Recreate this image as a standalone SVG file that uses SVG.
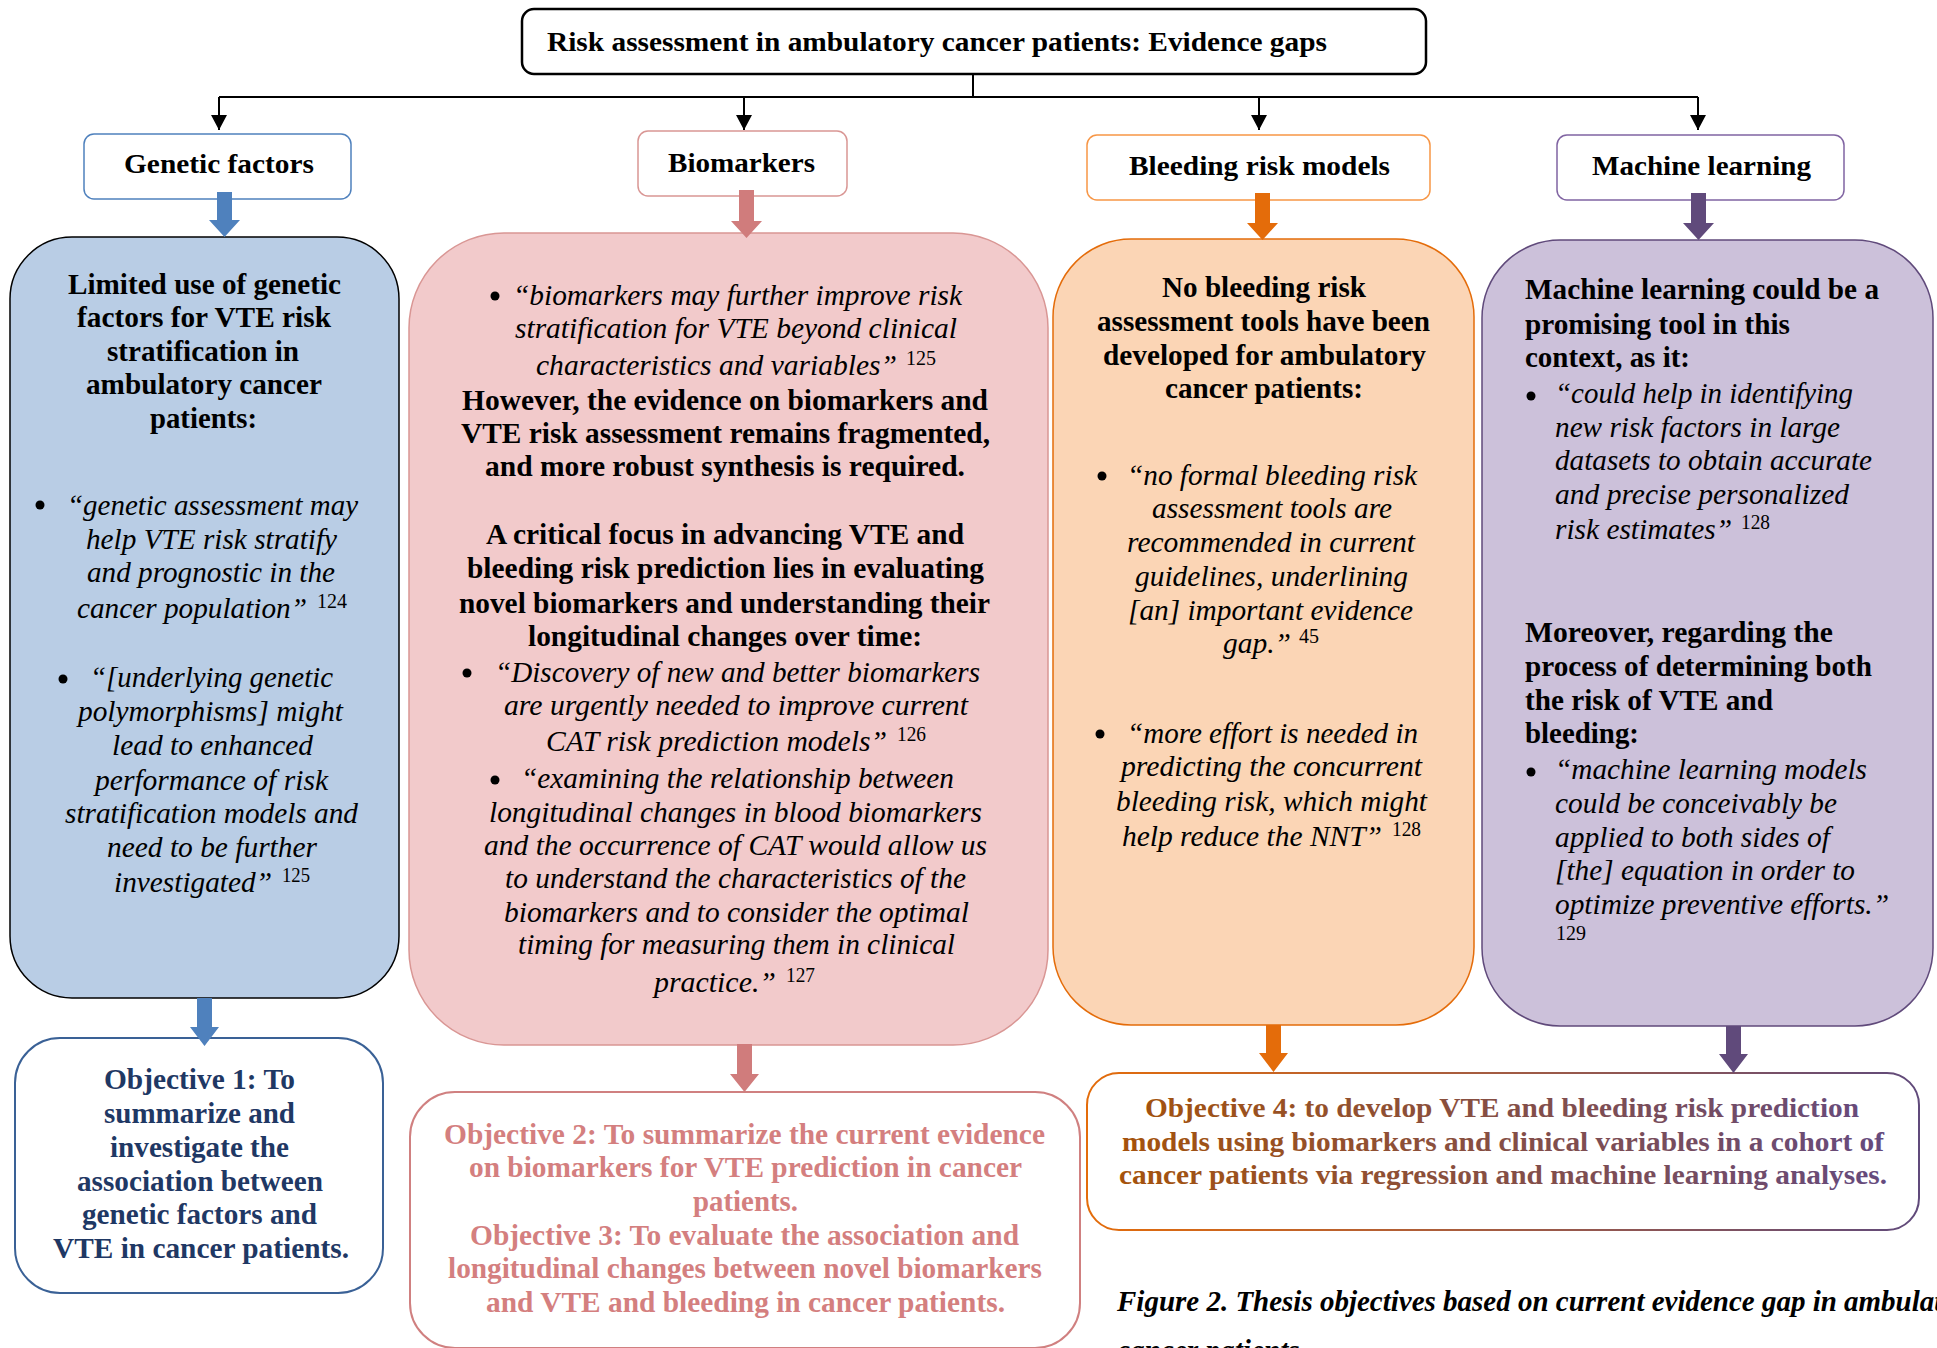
<svg xmlns="http://www.w3.org/2000/svg" width="1937" height="1348" viewBox="0 0 1937 1348">
<style>
text { font-family: "Liberation Serif", "Times New Roman", serif; fill: #000; }
.t { font-weight: bold; font-size: 28px; }
.h { font-weight: bold; font-size: 29px; }
.i { font-style: italic; font-size: 29px; }
.s { font-size: 20px; }
.o { font-weight: bold; font-size: 30px; }
.o1 { fill: #1F3864; }
.o2 { fill: #D47F7F; }
.o4 { fill: url(#g4t); font-size: 28px; }
.cap { font-weight: bold; font-style: italic; font-size: 30px; }
.line { stroke: #000; stroke-width: 2; fill: none; }
.dot { fill: #000; }
</style>
<defs>
<marker id="ah" markerUnits="userSpaceOnUse" markerWidth="16" markerHeight="16" refX="15" refY="8" orient="auto" viewBox="0 0 16 16">
<path d="M0 0 L15 8 L0 16 Z" fill="#000"/>
</marker>
<linearGradient id="g4" gradientUnits="userSpaceOnUse" x1="1087" y1="0" x2="1919" y2="0">
<stop offset="0" stop-color="#E46C0A"/><stop offset="1" stop-color="#604A7B"/>
</linearGradient>
<linearGradient id="g4t" gradientUnits="userSpaceOnUse" x1="1119" y1="0" x2="1887" y2="0">
<stop offset="0" stop-color="#A5520C"/><stop offset="1" stop-color="#654A7E"/>
</linearGradient>
</defs>
<rect width="1937" height="1348" fill="#fff"/>

<g id="title">
<rect x="522" y="9" width="904" height="65" rx="12" fill="#fff" stroke="#000" stroke-width="2.5"/>
<text class="t" x="547" y="51" textLength="780" lengthAdjust="spacingAndGlyphs">Risk assessment in ambulatory cancer patients: Evidence gaps</text>
</g>

<g id="hdr-genetic">
<rect x="84" y="134" width="267" height="65" rx="10" fill="#fff" stroke="#4F81BD" stroke-width="1.5"/>
<text class="t" x="124" y="173" textLength="190" lengthAdjust="spacingAndGlyphs">Genetic factors</text>
</g>
<g id="hdr-biomarkers">
<rect x="638" y="131" width="209" height="65" rx="10" fill="#fff" stroke="#D99694" stroke-width="1.5"/>
<text class="t" x="668" y="172" textLength="147" lengthAdjust="spacingAndGlyphs">Biomarkers</text>
</g>
<g id="hdr-bleeding">
<rect x="1087" y="135" width="343" height="65" rx="10" fill="#fff" stroke="#F79646" stroke-width="1.5"/>
<text class="t" x="1129" y="175" textLength="261" lengthAdjust="spacingAndGlyphs">Bleeding risk models</text>
</g>
<g id="hdr-ml">
<rect x="1557" y="135" width="287" height="65" rx="10" fill="#fff" stroke="#8064A2" stroke-width="1.5"/>
<text class="t" x="1592" y="175" textLength="219" lengthAdjust="spacingAndGlyphs">Machine learning</text>
</g>

<g id="gap-genetic">
<rect x="10" y="237" width="389" height="761" rx="62" fill="#B9CDE5" stroke="#000" stroke-width="1.5"/>
<text class="h" x="68" y="294" textLength="273" lengthAdjust="spacingAndGlyphs">Limited use of genetic</text>
<text class="h" x="77" y="327" textLength="254" lengthAdjust="spacingAndGlyphs">factors for VTE risk</text>
<text class="h" x="107" y="361" textLength="192" lengthAdjust="spacingAndGlyphs">stratification in</text>
<text class="h" x="86" y="394" textLength="236" lengthAdjust="spacingAndGlyphs">ambulatory cancer</text>
<text class="h" x="150" y="428" textLength="107" lengthAdjust="spacingAndGlyphs">patients:</text>
<circle class="dot" cx="40" cy="505" r="4.5"/>
<text class="i" x="67" y="515" textLength="291" lengthAdjust="spacingAndGlyphs">“genetic assessment may</text>
<text class="i" x="86" y="549" textLength="251" lengthAdjust="spacingAndGlyphs">help VTE risk stratify</text>
<text class="i" x="87" y="582" textLength="248" lengthAdjust="spacingAndGlyphs">and prognostic in the</text>
<text class="i" x="77" y="618" textLength="230" lengthAdjust="spacingAndGlyphs">cancer population”</text>
<text class="s" x="317" y="608" textLength="30" lengthAdjust="spacingAndGlyphs">124</text>
<circle class="dot" cx="63" cy="679" r="4.5"/>
<text class="i" x="90" y="687" textLength="243" lengthAdjust="spacingAndGlyphs">“[underlying genetic</text>
<text class="i" x="78" y="721" textLength="265" lengthAdjust="spacingAndGlyphs">polymorphisms] might</text>
<text class="i" x="112" y="755" textLength="201" lengthAdjust="spacingAndGlyphs">lead to enhanced</text>
<text class="i" x="95" y="790" textLength="233" lengthAdjust="spacingAndGlyphs">performance of risk</text>
<text class="i" x="65" y="823" textLength="293" lengthAdjust="spacingAndGlyphs">stratification models and</text>
<text class="i" x="107" y="857" textLength="210" lengthAdjust="spacingAndGlyphs">need to be further</text>
<text class="i" x="114" y="892" textLength="158" lengthAdjust="spacingAndGlyphs">investigated”</text>
<text class="s" x="282" y="882" textLength="28" lengthAdjust="spacingAndGlyphs">125</text>
</g>

<g id="gap-biomarkers">
<rect x="409" y="233" width="639" height="812" rx="95" fill="#F2CACB" stroke="#D99694" stroke-width="1.5"/>
<circle class="dot" cx="495" cy="296" r="4.5"/>
<text class="i" x="513" y="305" textLength="449" lengthAdjust="spacingAndGlyphs">“biomarkers may further improve risk</text>
<text class="i" x="515" y="338" textLength="442" lengthAdjust="spacingAndGlyphs">stratification for VTE beyond clinical</text>
<text class="i" x="536" y="375" textLength="361" lengthAdjust="spacingAndGlyphs">characteristics and variables”</text>
<text class="s" x="906" y="365" textLength="30" lengthAdjust="spacingAndGlyphs">125</text>
<text class="h" x="462" y="410" textLength="526" lengthAdjust="spacingAndGlyphs">However, the evidence on biomarkers and</text>
<text class="h" x="461" y="443" textLength="529" lengthAdjust="spacingAndGlyphs">VTE risk assessment remains fragmented,</text>
<text class="h" x="485" y="476" textLength="480" lengthAdjust="spacingAndGlyphs">and more robust synthesis is required.</text>
<text class="h" x="486" y="544" textLength="478" lengthAdjust="spacingAndGlyphs">A critical focus in advancing VTE and</text>
<text class="h" x="467" y="578" textLength="517" lengthAdjust="spacingAndGlyphs">bleeding risk prediction lies in evaluating</text>
<text class="h" x="459" y="613" textLength="531" lengthAdjust="spacingAndGlyphs">novel biomarkers and understanding their</text>
<text class="h" x="528" y="646" textLength="394" lengthAdjust="spacingAndGlyphs">longitudinal changes over time:</text>
<circle class="dot" cx="467" cy="673" r="4.5"/>
<text class="i" x="495" y="682" textLength="485" lengthAdjust="spacingAndGlyphs">“Discovery of new and better biomarkers</text>
<text class="i" x="504" y="715" textLength="464" lengthAdjust="spacingAndGlyphs">are urgently needed to improve current</text>
<text class="i" x="546" y="751" textLength="341" lengthAdjust="spacingAndGlyphs">CAT risk prediction models”</text>
<text class="s" x="897" y="741" textLength="29" lengthAdjust="spacingAndGlyphs">126</text>
<circle class="dot" cx="495" cy="780" r="4.5"/>
<text class="i" x="521" y="788" textLength="433" lengthAdjust="spacingAndGlyphs">“examining the relationship between</text>
<text class="i" x="489" y="822" textLength="493" lengthAdjust="spacingAndGlyphs">longitudinal changes in blood biomarkers</text>
<text class="i" x="484" y="855" textLength="503" lengthAdjust="spacingAndGlyphs">and the occurrence of CAT would allow us</text>
<text class="i" x="505" y="888" textLength="461" lengthAdjust="spacingAndGlyphs">to understand the characteristics of the</text>
<text class="i" x="504" y="922" textLength="465" lengthAdjust="spacingAndGlyphs">biomarkers and to consider the optimal</text>
<text class="i" x="518" y="954" textLength="437" lengthAdjust="spacingAndGlyphs">timing for measuring them in clinical</text>
<text class="i" x="654" y="992" textLength="122" lengthAdjust="spacingAndGlyphs">practice.”</text>
<text class="s" x="786" y="982" textLength="29" lengthAdjust="spacingAndGlyphs">127</text>
</g>

<g id="gap-bleeding">
<rect x="1053" y="239" width="421" height="786" rx="78" fill="#FBD5B5" stroke="#E46C0A" stroke-width="1.5"/>
<text class="h" x="1162" y="297" textLength="204" lengthAdjust="spacingAndGlyphs">No bleeding risk</text>
<text class="h" x="1097" y="331" textLength="333" lengthAdjust="spacingAndGlyphs">assessment tools have been</text>
<text class="h" x="1103" y="365" textLength="323" lengthAdjust="spacingAndGlyphs">developed for ambulatory</text>
<text class="h" x="1165" y="398" textLength="198" lengthAdjust="spacingAndGlyphs">cancer patients:</text>
<circle class="dot" cx="1102" cy="476" r="4.5"/>
<text class="i" x="1127" y="485" textLength="290" lengthAdjust="spacingAndGlyphs">“no formal bleeding risk</text>
<text class="i" x="1152" y="518" textLength="240" lengthAdjust="spacingAndGlyphs">assessment tools are</text>
<text class="i" x="1127" y="552" textLength="288" lengthAdjust="spacingAndGlyphs">recommended in current</text>
<text class="i" x="1135" y="586" textLength="273" lengthAdjust="spacingAndGlyphs">guidelines, underlining</text>
<text class="i" x="1128" y="620" textLength="285" lengthAdjust="spacingAndGlyphs">[an] important evidence</text>
<text class="i" x="1223" y="653" textLength="68" lengthAdjust="spacingAndGlyphs">gap.”</text>
<text class="s" x="1299" y="643" textLength="20" lengthAdjust="spacingAndGlyphs">45</text>
<circle class="dot" cx="1100" cy="734" r="4.5"/>
<text class="i" x="1127" y="743" textLength="291" lengthAdjust="spacingAndGlyphs">“more effort is needed in</text>
<text class="i" x="1121" y="776" textLength="301" lengthAdjust="spacingAndGlyphs">predicting the concurrent</text>
<text class="i" x="1116" y="811" textLength="311" lengthAdjust="spacingAndGlyphs">bleeding risk, which might</text>
<text class="i" x="1122" y="846" textLength="260" lengthAdjust="spacingAndGlyphs">help reduce the NNT”</text>
<text class="s" x="1392" y="836" textLength="29" lengthAdjust="spacingAndGlyphs">128</text>
</g>

<g id="gap-ml">
<rect x="1482" y="240" width="451" height="786" rx="78" fill="#CCC1DA" stroke="#604A7B" stroke-width="1.5"/>
<text class="h" x="1525" y="299" textLength="354" lengthAdjust="spacingAndGlyphs">Machine learning could be a</text>
<text class="h" x="1525" y="334" textLength="265" lengthAdjust="spacingAndGlyphs">promising tool in this</text>
<text class="h" x="1525" y="367" textLength="165" lengthAdjust="spacingAndGlyphs">context, as it:</text>
<circle class="dot" cx="1531" cy="396" r="4.5"/>
<text class="i" x="1555" y="403" textLength="298" lengthAdjust="spacingAndGlyphs">“could help in identifying</text>
<text class="i" x="1555" y="437" textLength="285" lengthAdjust="spacingAndGlyphs">new risk factors in large</text>
<text class="i" x="1555" y="470" textLength="317" lengthAdjust="spacingAndGlyphs">datasets to obtain accurate</text>
<text class="i" x="1555" y="504" textLength="294" lengthAdjust="spacingAndGlyphs">and precise personalized</text>
<text class="i" x="1555" y="539" textLength="177" lengthAdjust="spacingAndGlyphs">risk estimates”</text>
<text class="s" x="1741" y="529" textLength="29" lengthAdjust="spacingAndGlyphs">128</text>
<text class="h" x="1525" y="642" textLength="308" lengthAdjust="spacingAndGlyphs">Moreover, regarding the</text>
<text class="h" x="1525" y="676" textLength="347" lengthAdjust="spacingAndGlyphs">process of determining both</text>
<text class="h" x="1525" y="710" textLength="248" lengthAdjust="spacingAndGlyphs">the risk of VTE and</text>
<text class="h" x="1525" y="743" textLength="114" lengthAdjust="spacingAndGlyphs">bleeding:</text>
<circle class="dot" cx="1531" cy="772" r="4.5"/>
<text class="i" x="1555" y="779" textLength="312" lengthAdjust="spacingAndGlyphs">“machine learning models</text>
<text class="i" x="1555" y="813" textLength="282" lengthAdjust="spacingAndGlyphs">could be conceivably be</text>
<text class="i" x="1555" y="847" textLength="275" lengthAdjust="spacingAndGlyphs">applied to both sides of</text>
<text class="i" x="1555" y="880" textLength="300" lengthAdjust="spacingAndGlyphs">[the] equation in order to</text>
<text class="i" x="1555" y="914" textLength="334" lengthAdjust="spacingAndGlyphs">optimize preventive efforts.”</text>
<text class="s" x="1556" y="940" textLength="30" lengthAdjust="spacingAndGlyphs">129</text>
</g>

<g id="objective-1">
<rect x="15" y="1038" width="368" height="255" rx="45" fill="#fff" stroke="#3A6196" stroke-width="2"/>
<text class="o o1" x="104" y="1089" textLength="191" lengthAdjust="spacingAndGlyphs">Objective 1: To</text>
<text class="o o1" x="104" y="1123" textLength="191" lengthAdjust="spacingAndGlyphs">summarize and</text>
<text class="o o1" x="110" y="1157" textLength="179" lengthAdjust="spacingAndGlyphs">investigate the</text>
<text class="o o1" x="77" y="1191" textLength="246" lengthAdjust="spacingAndGlyphs">association between</text>
<text class="o o1" x="82" y="1224" textLength="235" lengthAdjust="spacingAndGlyphs">genetic factors and</text>
<text class="o o1" x="53" y="1258" textLength="296" lengthAdjust="spacingAndGlyphs">VTE in cancer patients.</text>
</g>

<g id="objective-2-3">
<rect x="410" y="1092" width="670" height="256" rx="45" fill="#fff" stroke="#D08080" stroke-width="2"/>
<text class="o o2" x="444" y="1144" textLength="601" lengthAdjust="spacingAndGlyphs">Objective 2: To summarize the current evidence</text>
<text class="o o2" x="469" y="1177" textLength="553" lengthAdjust="spacingAndGlyphs">on biomarkers for VTE prediction in cancer</text>
<text class="o o2" x="693" y="1211" textLength="105" lengthAdjust="spacingAndGlyphs">patients.</text>
<text class="o o2" x="470" y="1245" textLength="549" lengthAdjust="spacingAndGlyphs">Objective 3: To evaluate the association and</text>
<text class="o o2" x="448" y="1278" textLength="594" lengthAdjust="spacingAndGlyphs">longitudinal changes between novel biomarkers</text>
<text class="o o2" x="486" y="1312" textLength="519" lengthAdjust="spacingAndGlyphs">and VTE and bleeding in cancer patients.</text>
</g>

<g id="objective-4">
<rect x="1087" y="1073" width="832" height="157" rx="32" fill="#fff" stroke="url(#g4)" stroke-width="2"/>
<text class="o o4" x="1145" y="1117" textLength="714" lengthAdjust="spacingAndGlyphs">Objective 4: to develop VTE and bleeding risk prediction</text>
<text class="o o4" x="1122" y="1151" textLength="762" lengthAdjust="spacingAndGlyphs">models using biomarkers and clinical variables in a cohort of</text>
<text class="o o4" x="1119" y="1184" textLength="768" lengthAdjust="spacingAndGlyphs">cancer patients via regression and machine learning analyses.</text>
</g>

<g id="caption">
<text class="cap" x="1117" y="1311" textLength="864" lengthAdjust="spacingAndGlyphs">Figure 2. Thesis objectives based on current evidence gap in ambulatory</text>
<text class="cap" x="1117" y="1360" textLength="190" lengthAdjust="spacingAndGlyphs">cancer patients.</text>
</g>

<g id="connectors">
<path class="line" d="M973 74 V97 M219 97 H1698"/>
<path class="line" d="M219 97 V130" marker-end="url(#ah)"/>
<path class="line" d="M744 97 V130" marker-end="url(#ah)"/>
<path class="line" d="M1259 97 V130" marker-end="url(#ah)"/>
<path class="line" d="M1698 97 V130" marker-end="url(#ah)"/>
<polygon fill="#4F81BD" points="217,192 232,192 232,220 240,220 224.5,237 209,220 217,220"/>
<polygon fill="#D07C7C" points="739,190 754,190 754,221 762,221 746.5,238 731,221 739,221"/>
<polygon fill="#E46C0A" points="1255,193 1270,193 1270,223 1278,223 1262.5,240 1247,223 1255,223"/>
<polygon fill="#604A7B" points="1691,193 1706,193 1706,223 1714,223 1698.5,240 1683,223 1691,223"/>
<polygon fill="#4F81BD" points="197,998 212,998 212,1027 219,1027 204.5,1046 190,1027 197,1027"/>
<polygon fill="#D07C7C" points="737,1044 752,1044 752,1074 759,1074 744.5,1092 730,1074 737,1074"/>
<polygon fill="#E46C0A" points="1266,1025 1281,1025 1281,1053 1288,1053 1273.5,1072 1259,1053 1266,1053"/>
<polygon fill="#604A7B" points="1726,1026 1741,1026 1741,1054 1748,1054 1733.5,1073 1719,1054 1726,1054"/>
</g>
</svg>
